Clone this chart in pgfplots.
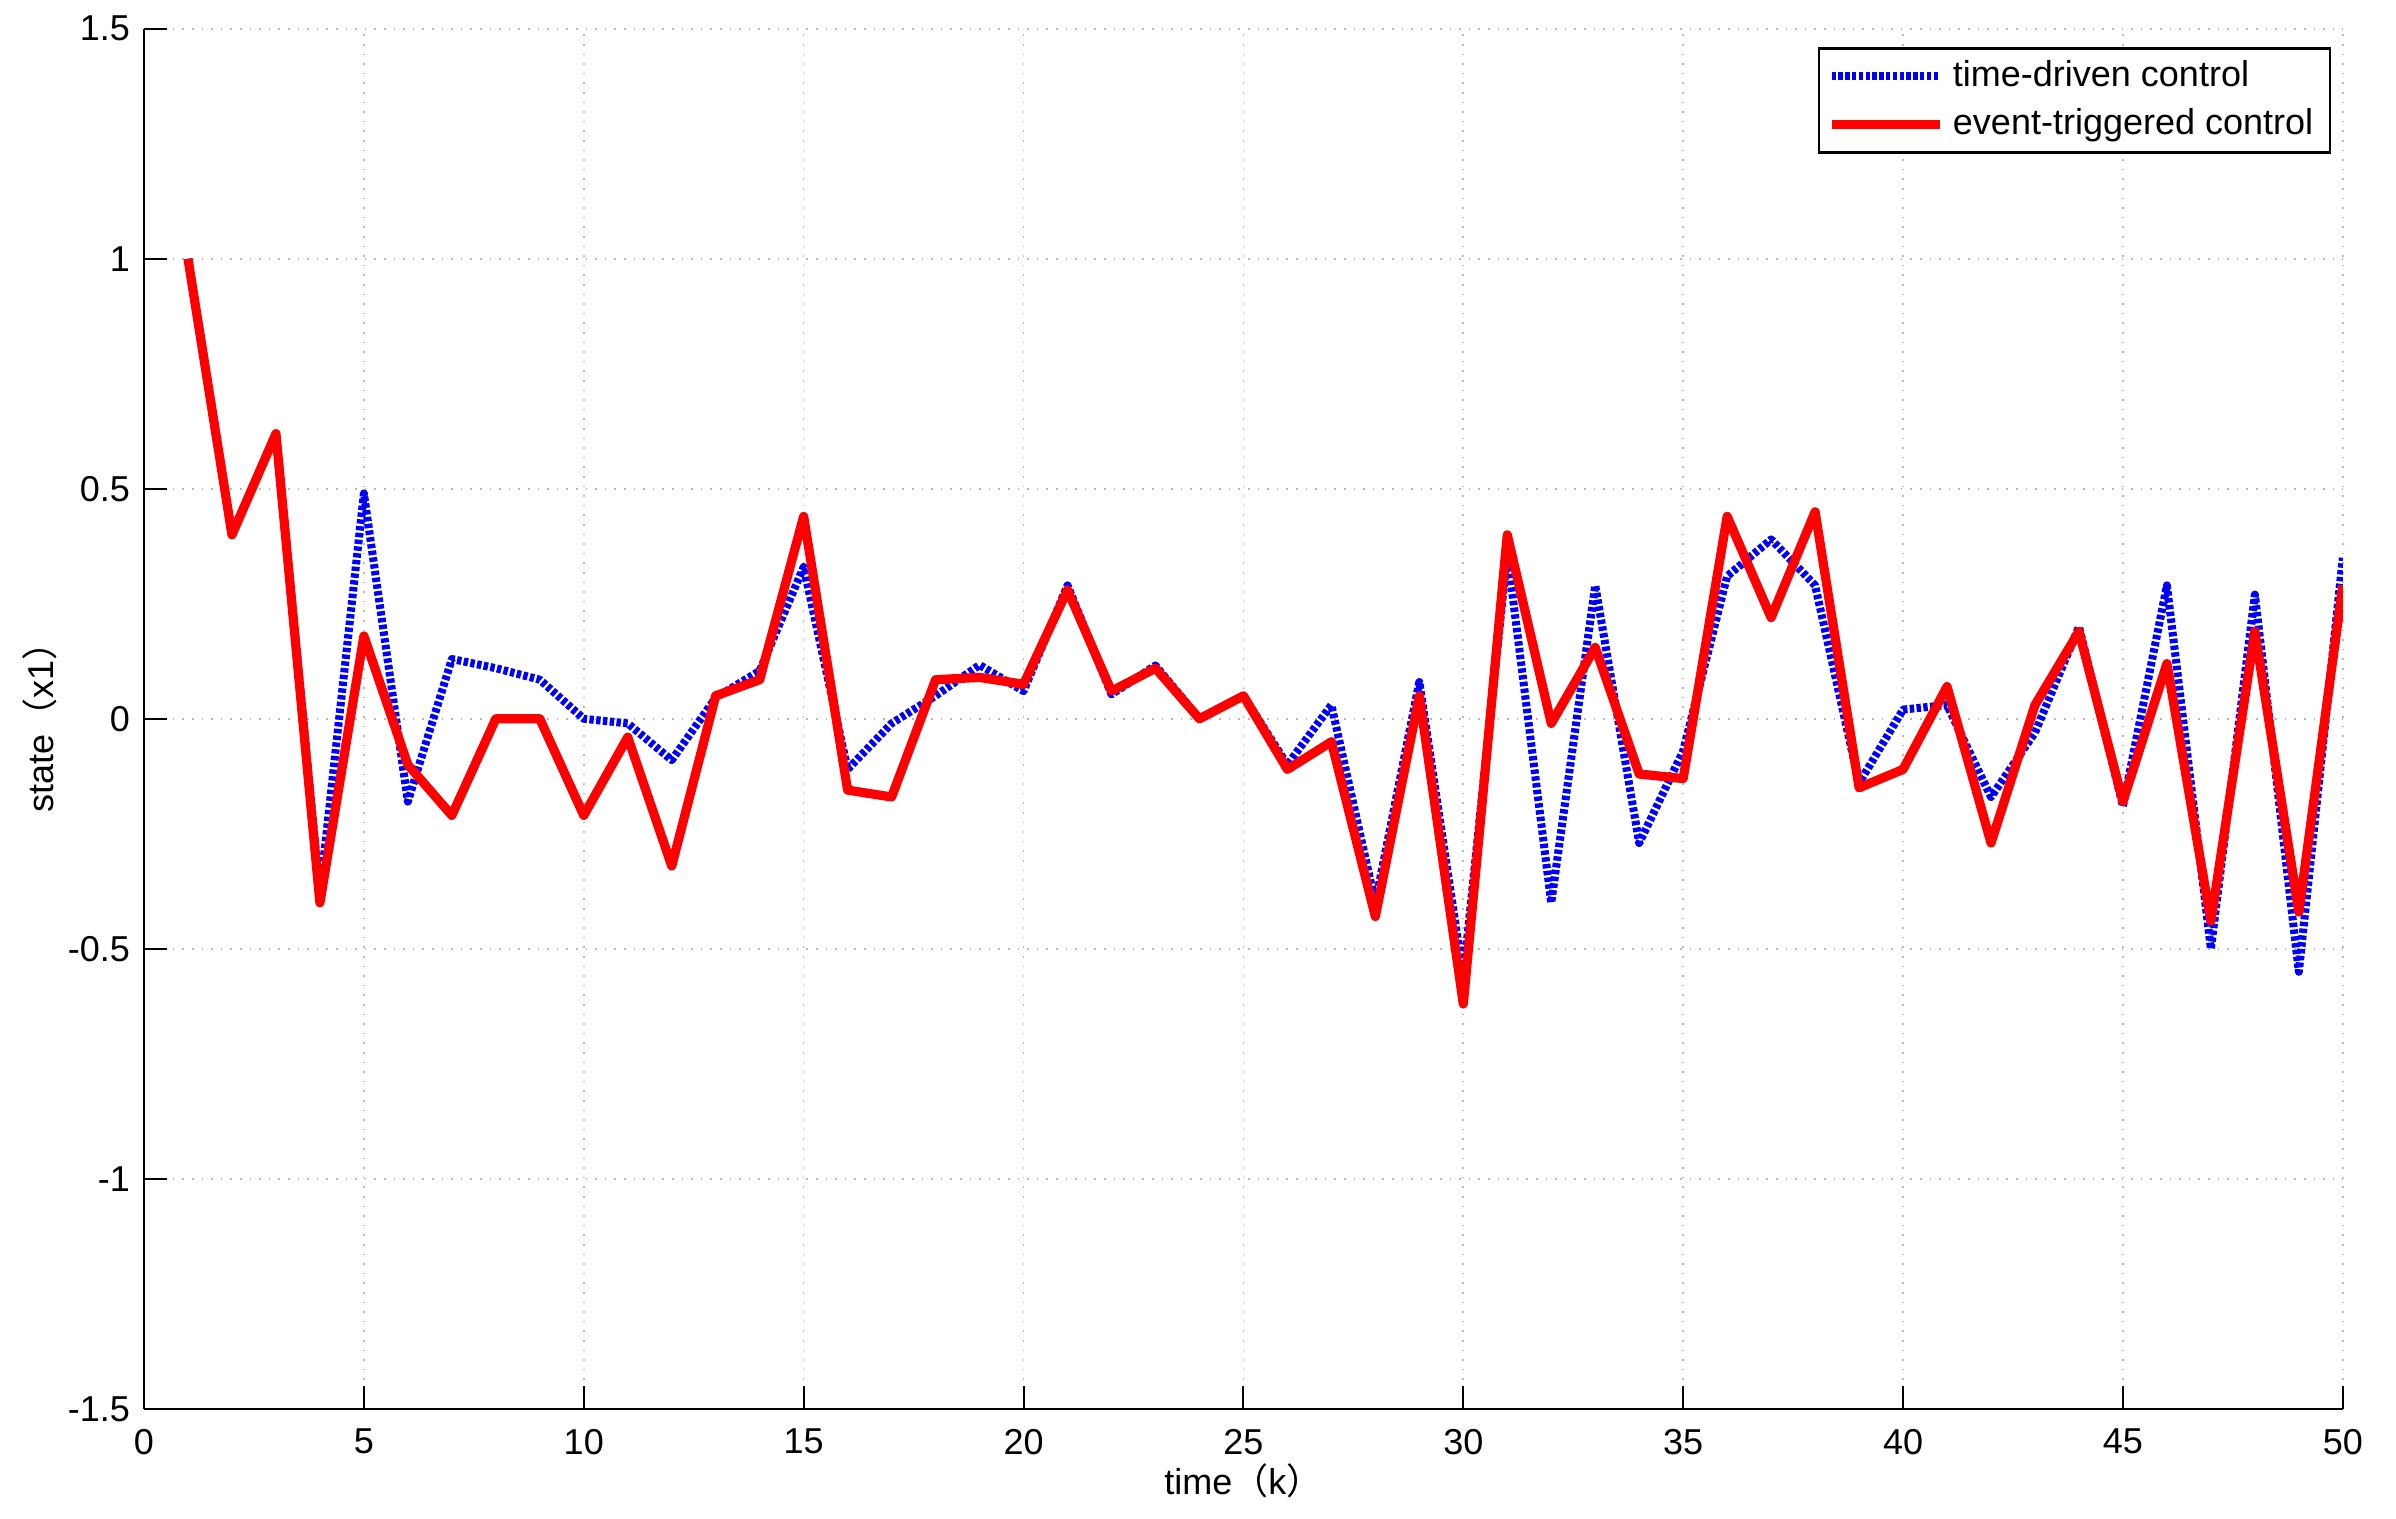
\documentclass[border=0pt]{standalone}
\usepackage{fontspec}
\setmainfont{Liberation Sans}
\newfontfamily\cjk{Noto Sans CJK SC}
\usepackage{pgfplots}
\pgfplotsset{compat=1.18}

\pgfplotstableread{
k  y
1  1.00
2  0.40
3  0.62
4  -0.38
5  0.49
6  -0.18
7  0.13
8  0.11
9  0.085
10 0.00
11 -0.01
12 -0.09
13 0.046
14 0.104
15 0.33
16 -0.11
17 -0.01
18 0.05
19 0.117
20 0.06
21 0.29
22 0.053
23 0.116
24 0.00
25 0.05
26 -0.10
27 0.03
28 -0.40
29 0.08
30 -0.56
31 0.36
32 -0.40
33 0.29
34 -0.27
35 -0.07
36 0.31
37 0.39
38 0.29
39 -0.14
40 0.02
41 0.03
42 -0.17
43 -0.03
44 0.20
45 -0.19
46 0.29
47 -0.50
48 0.27
49 -0.55
50 0.35
}\timedriven

\pgfplotstableread{
k  y
1  1.00
2  0.40
3  0.62
4  -0.40
5  0.18
6  -0.10
7  -0.21
8  0.00
9  0.00
10 -0.21
11 -0.04
12 -0.32
13 0.05
14 0.085
15 0.44
16 -0.155
17 -0.17
18 0.085
19 0.09
20 0.075
21 0.28
22 0.06
23 0.11
24 0.00
25 0.05
26 -0.11
27 -0.05
28 -0.43
29 0.05
30 -0.62
31 0.40
32 -0.01
33 0.155
34 -0.12
35 -0.13
36 0.44
37 0.22
38 0.45
39 -0.15
40 -0.11
41 0.07
42 -0.27
43 0.03
44 0.19
45 -0.18
46 0.12
47 -0.44
48 0.19
49 -0.42
50 0.29
}\eventtrig

\begin{document}
\begin{tikzpicture}[font=\fontsize{9}{11}\selectfont]
  \begin{axis}[
    name=ax,
    scale only axis,
    width=549.7pt, height=345pt,
    xmin=0, xmax=50, ymin=-1.5, ymax=1.5,
    xtick={0,5,...,50},
    ytick={-1.5,-1,-0.5,0,0.5,1,1.5},
    axis lines=left,
    axis line style={-, line width=0.5pt, black},
    tick align=inside,
    major tick length=5.7pt,
    tick style={black, line width=0.5pt},
    tick label style={font=\fontsize{9}{11}\selectfont,
                      /pgf/number format/assume math mode=true},
    xticklabel style={yshift=-1.5pt},
    grid=major,
    grid style={gray!55, dotted, line width=0.4pt},
    xlabel={time{\cjk （}k{\cjk ）}},
    ylabel={state{\cjk （}x1{\cjk ）}},
    xlabel style={at={(axis description cs:0.5,-0.0522)}, anchor=center},
    ylabel style={at={(axis description cs:-0.0473,0.5)}, anchor=center},
    legend style={at={(0.9947,0.9867)}, anchor=north east,
                  draw=black, line width=0.6pt,
                  font=\fontsize{9}{10.3}\selectfont,
                  inner xsep=2pt, inner ysep=1pt,
                  nodes={inner xsep=2.2pt},
                  cells={anchor=west}},
    legend image code/.code={\draw[#1] (0pt,0pt) -- (27pt,0pt);},
  ]
    \addplot[blue, line width=2pt, line join=round,
             dash pattern=on 1.1pt off 0.6pt]
      table[x=k,y=y] {\timedriven};
    \addplot[red, line width=2.3pt, line join=round]
      table[x=k,y=y] {\eventtrig};
    \legend{time-driven control,event-triggered control}
  \end{axis}
  \pgfresetboundingbox
  \path[use as bounding box]
    ([shift={(-36pt,-27.5pt)}]ax.south west)
    rectangle ([shift={(13.3pt,7.2pt)}]ax.north east);
\end{tikzpicture}
\end{document}
